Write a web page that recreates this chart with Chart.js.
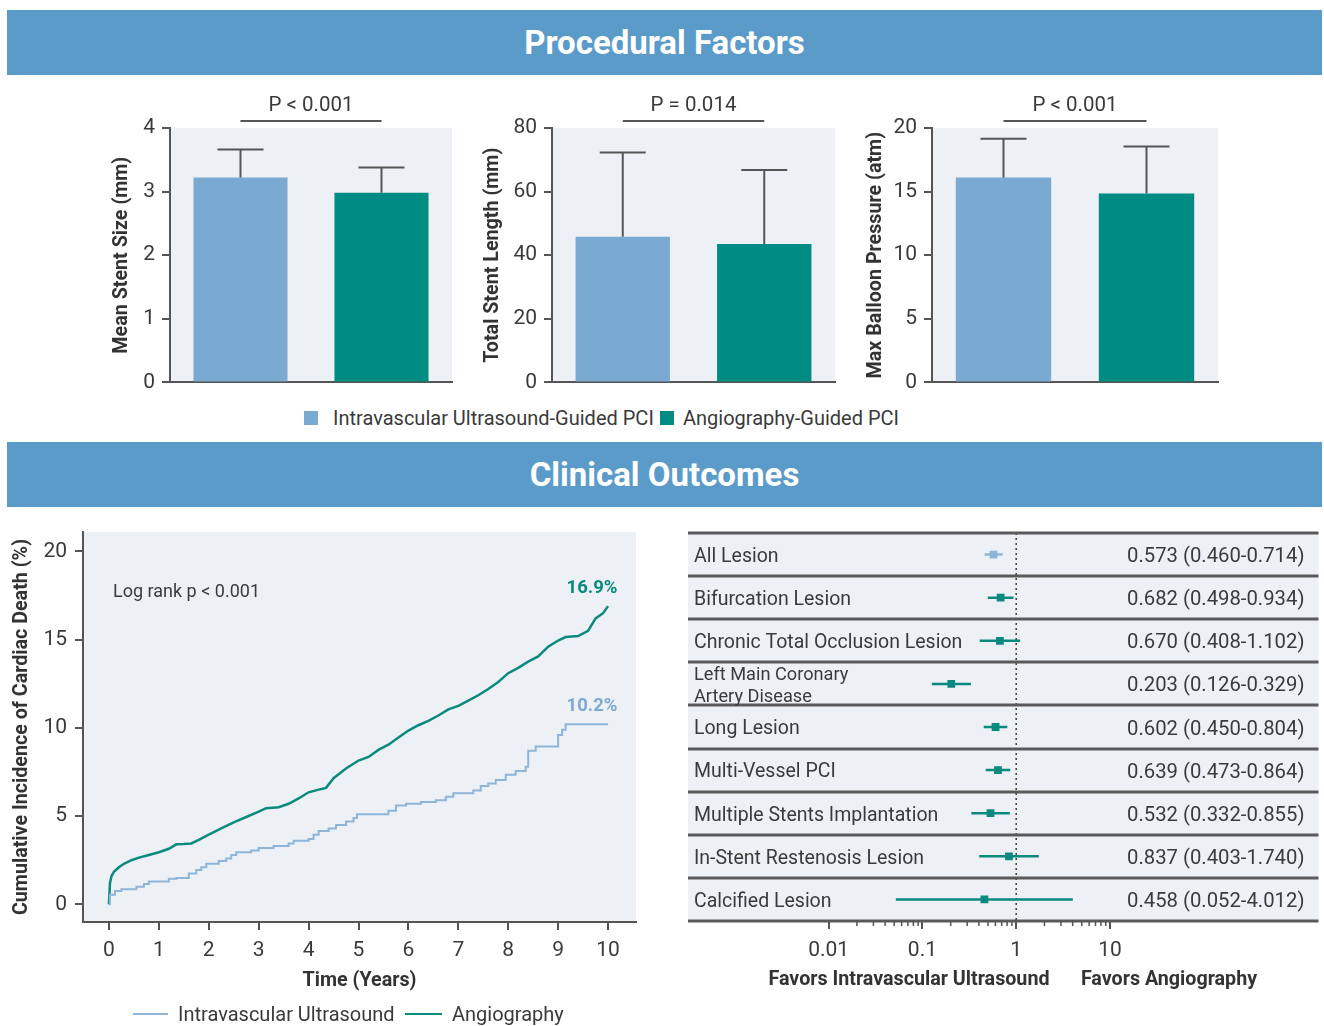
<!DOCTYPE html>
<html>
<head>
<meta charset="utf-8">
<title>IVUS-Guided vs Angiography-Guided PCI</title>
<script src="https://cdn.jsdelivr.net/npm/chart.js@4.4.1/dist/chart.umd.min.js"></script>
<style>
  html, body { margin: 0; padding: 0; }
  body { width: 1324px; height: 1026px; position: relative; overflow: hidden; background: #ffffff;
         font-family: Roboto, "Noto Sans", sans-serif; color: #3a3a3a; }
  .band { position: absolute; left: 7px; width: 1315px; height: 65px; background: #5b9bca; color: #ffffff;
          font-weight: 700; font-size: 33px; display: flex; align-items: center; justify-content: center; }
  .cv { position: absolute; }
  .lg { position: absolute; font-size: 20px; line-height: 22px; height: 22px; white-space: nowrap; color: #3a3a3a; }
  .sw { position: absolute; width: 14px; height: 14px; }
  .ln { position: absolute; height: 0; }
</style>
</head>
<body>

<div class="band" style="top:10px">Procedural Factors</div>
<div class="band" style="top:442px">Clinical Outcomes</div>

<canvas id="barSize" class="cv"></canvas>
<canvas id="barLength" class="cv"></canvas>
<canvas id="barPressure" class="cv"></canvas>

<div id="barLegend"></div>

<canvas id="km" class="cv"></canvas>
<div id="kmLegend"></div>

<canvas id="forest" class="cv"></canvas>

<script>
// ---------- data ----------
const groups = ['Intravascular Ultrasound-Guided PCI', 'Angiography-Guided PCI'];

const stentSizeMean = [3.22, 2.98];
const stentSizeSD = [0.44, 0.40];
const stentSizeTicks = [0, 1, 2, 3, 4];

const stentLengthMean = [45.8, 43.5];
const stentLengthSD = [26.5, 23.3];
const stentLengthTicks = [0, 20, 40, 60, 80];

const balloonMean = [16.1, 14.85];
const balloonSD = [3.05, 3.7];
const balloonTicks = [0, 5, 10, 15, 20];

const barPValues = ['P < 0.001', 'P = 0.014', 'P < 0.001'];
const barTitles = ['Mean Stent Size (mm)', 'Total Stent Length (mm)', 'Max Balloon Pressure (atm)'];

// cumulative incidence of cardiac death (%) over follow-up (years)
const kmSeries = ['Intravascular Ultrasound', 'Angiography'];
const ivusTime = [0, 0.02, 0.12, 0.25, 0.55, 0.7, 0.8, 1.2, 1.35, 1.6, 1.75, 1.85, 1.95, 2.2, 2.35, 2.45, 2.55,
  2.85, 3.0, 3.3, 3.6, 3.7, 4.0, 4.1, 4.2, 4.4, 4.55, 4.75, 4.9, 4.97, 5.6, 5.75, 5.95, 6.25, 6.55, 6.75, 6.9,
  7.3, 7.45, 7.6, 7.75, 7.95, 8.15, 8.35, 8.4, 8.55, 9.0, 9.08, 9.15, 10.0];
const ivusRisk = [0, 0.55, 0.75, 0.85, 1.0, 1.15, 1.3, 1.45, 1.5, 1.75, 1.95, 2.1, 2.3, 2.45, 2.6, 2.8, 2.95,
  3.05, 3.2, 3.3, 3.45, 3.6, 3.7, 3.95, 4.15, 4.3, 4.5, 4.7, 4.9, 5.1, 5.3, 5.6, 5.7, 5.8, 5.9, 6.1, 6.3,
  6.45, 6.7, 6.85, 7.05, 7.35, 7.55, 7.8, 8.7, 8.95, 9.6, 9.9, 10.2, 10.2];
const angioTime = [0, 0.02, 0.05, 0.1, 0.2, 0.3, 0.45, 0.6, 0.8, 1.0, 1.2, 1.35, 1.5, 1.65, 1.8, 2.0, 2.25,
  2.5, 2.75, 3.0, 3.15, 3.4, 3.6, 3.8, 4.0, 4.2, 4.35, 4.5, 4.75, 5.0, 5.2, 5.4, 5.6, 5.8, 6.0, 6.2, 6.4,
  6.6, 6.8, 7.0, 7.2, 7.4, 7.6, 7.8, 8.0, 8.2, 8.4, 8.6, 8.8, 9.0, 9.15, 9.4, 9.6, 9.75, 9.9, 10.0];
const angioRisk = [0, 1.2, 1.6, 1.85, 2.1, 2.3, 2.5, 2.65, 2.8, 2.95, 3.15, 3.4, 3.42, 3.45, 3.65, 3.95, 4.3,
  4.65, 4.95, 5.25, 5.45, 5.5, 5.7, 6.0, 6.35, 6.5, 6.6, 7.15, 7.7, 8.15, 8.35, 8.75, 9.05, 9.45, 9.85, 10.15, 10.4,
  10.7, 11.05, 11.25, 11.55, 11.85, 12.2, 12.6, 13.1, 13.4, 13.75, 14.05, 14.6, 14.95, 15.15, 15.2, 15.5, 16.2, 16.5, 16.9];
const kmXTicks = [0, 1, 2, 3, 4, 5, 6, 7, 8, 9, 10];
const kmYTicks = [0, 5, 10, 15, 20];
const logRankText = 'Log rank p < 0.001';

// hazard ratios (95% CI), IVUS vs angiography, by lesion subgroup
const subgroups = ['All Lesion', 'Bifurcation Lesion', 'Chronic Total Occlusion Lesion',
  ['Left Main Coronary', 'Artery Disease'], 'Long Lesion', 'Multi-Vessel PCI',
  'Multiple Stents Implantation', 'In-Stent Restenosis Lesion', 'Calcified Lesion'];
const hazardRatio = [0.573, 0.682, 0.670, 0.203, 0.602, 0.639, 0.532, 0.837, 0.458];
const ciLower = [0.460, 0.498, 0.408, 0.126, 0.450, 0.473, 0.332, 0.403, 0.052];
const ciUpper = [0.714, 0.934, 1.102, 0.329, 0.804, 0.864, 0.855, 1.740, 4.012];
const forestTicks = [0.01, 0.1, 1, 10];
const forestTickLabels = ['0.01', '0.1', '1', '10'];
const favorLabels = ['Favors Intravascular Ultrasound', 'Favors Angiography'];

// ---------- styles ----------
const IVUS_BAR = '#7aa9d1';
const ANGIO_BAR = '#008c82';
const IVUS_LINE = '#8db5da';
const ANGIO_LINE = '#0a8a7f';
const PLOT_BG = '#edf1f6';
const AXIS = '#555555';
const TEXT = '#3a3a3a';
const FONT = 'Roboto, "Noto Sans", sans-serif';

Chart.defaults.font.family = FONT;
Chart.defaults.color = TEXT;
Chart.defaults.animation = false;

function place(id, left, top, width, height) {
  const c = document.getElementById(id);
  c.width = width; c.height = height;
  c.style.left = left + 'px'; c.style.top = top + 'px';
  c.style.width = width + 'px'; c.style.height = height + 'px';
  return c;
}

// ---------- procedural factor bar charts ----------
const barExtras = {
  id: 'barExtras',
  beforeDraw(chart) {
    const { ctx, chartArea: a } = chart;
    ctx.save();
    ctx.fillStyle = PLOT_BG;
    ctx.fillRect(a.left, a.top, a.right - a.left, a.bottom - a.top);
    ctx.restore();
  },
  afterDatasetsDraw(chart, args, opts) {
    const { ctx, chartArea: a } = chart;
    const y = chart.scales.y;
    const bars = chart.getDatasetMeta(0).data;
    ctx.save();
    ctx.strokeStyle = AXIS;
    ctx.lineWidth = 2;
    bars.forEach((bar, i) => {
      const top = y.getPixelForValue(opts.mean[i] + opts.sd[i]);
      ctx.beginPath();
      ctx.moveTo(bar.x, bar.y);
      ctx.lineTo(bar.x, top);
      ctx.moveTo(bar.x - 23, top);
      ctx.lineTo(bar.x + 23, top);
      ctx.stroke();
    });
    // significance bracket
    const ly = a.top - 7;
    ctx.beginPath();
    ctx.moveTo(bars[0].x, ly);
    ctx.lineTo(bars[1].x, ly);
    ctx.stroke();
    ctx.fillStyle = TEXT;
    ctx.font = '20.5px ' + FONT;
    ctx.textAlign = 'center';
    ctx.textBaseline = 'middle';
    ctx.fillText(opts.p, (bars[0].x + bars[1].x) / 2, a.top - 22);
    ctx.restore();
  }
};

function barChart(id, plotLeft, plotRight, mean, sd, ticks, title, p, titlePad) {
  const width = plotRight - plotLeft + 88;
  const canvas = place(id, plotLeft - 80, 87, width, 315);
  return new Chart(canvas, {
    type: 'bar',
    data: {
      labels: groups,
      datasets: [{
        data: mean,
        backgroundColor: [IVUS_BAR, ANGIO_BAR],
        borderWidth: 0,
        barPercentage: 0.667,
        categoryPercentage: 1
      }]
    },
    options: {
      responsive: false,
      devicePixelRatio: 1,
      layout: { padding: { top: 41, right: 8, bottom: 18, left: 0 } },
      plugins: {
        legend: { display: false },
        tooltip: { enabled: false },
        barExtras: { mean: mean, sd: sd, p: p }
      },
      scales: {
        x: {
          grid: { display: false },
          ticks: { display: false },
          border: { color: AXIS, width: 2 },
          afterFit(s) { s.height = 0; }
        },
        y: {
          min: ticks[0],
          max: ticks[ticks.length - 1],
          afterBuildTicks(s) { s.ticks = ticks.map(v => ({ value: v })); },
          ticks: { padding: 7, color: TEXT, font: { size: 21 } },
          grid: { drawOnChartArea: false, tickLength: 8, color: AXIS, lineWidth: 2 },
          border: { color: AXIS, width: 2 },
          title: { display: true, text: title, color: '#333', font: { size: 19.7, weight: 'bold' },
                   padding: { top: titlePad, bottom: 0 } },
          afterFit(s) { s.width = 80; }
        }
      }
    },
    plugins: [barExtras]
  });
}

barChart('barSize', 170, 452, stentSizeMean, stentSizeSD, stentSizeTicks, barTitles[0], barPValues[0], 20);
barChart('barLength', 552, 835, stentLengthMean, stentLengthSD, stentLengthTicks, barTitles[1], barPValues[1], 9);
barChart('barPressure', 932, 1218, balloonMean, balloonSD, balloonTicks, barTitles[2], barPValues[2], 12);

// legend for the bar charts
(function () {
  const host = document.getElementById('barLegend');
  const items = [[304, 333, IVUS_BAR], [660, 683, ANGIO_BAR]];
  items.forEach(([sx, tx, col], i) => {
    const sw = document.createElement('div');
    sw.className = 'sw';
    sw.style.left = sx + 'px'; sw.style.top = '411px'; sw.style.background = col;
    host.appendChild(sw);
    const t = document.createElement('div');
    t.className = 'lg';
    t.style.left = tx + 'px'; t.style.top = '407px';
    t.textContent = groups[i];
    host.appendChild(t);
  });
})();

// ---------- cumulative incidence curves ----------
const kmExtras = {
  id: 'kmExtras',
  beforeDraw(chart) {
    const { ctx, chartArea: a } = chart;
    ctx.save();
    ctx.fillStyle = PLOT_BG;
    ctx.fillRect(a.left, a.top, a.right - a.left, a.bottom - a.top);
    ctx.restore();
  },
  afterDatasetsDraw(chart) {
    const { ctx, chartArea: a } = chart;
    ctx.save();
    ctx.fillStyle = TEXT;
    ctx.font = '18px ' + FONT;
    ctx.textAlign = 'left';
    ctx.textBaseline = 'middle';
    ctx.fillText(logRankText, a.left + 30, a.top + 60);
    // final cumulative incidence beside each curve end
    ctx.font = 'bold 18.5px ' + FONT;
    ctx.textAlign = 'center';
    chart.data.datasets.forEach((ds, i) => {
      const pts = chart.getDatasetMeta(i).data;
      const last = pts[pts.length - 1];
      const v = ds.data[ds.data.length - 1].y;
      ctx.fillStyle = ds.labelColor;
      ctx.fillText(v.toFixed(1) + '%', last.x - 16, last.y - 18);
    });
    ctx.restore();
  }
};

const kmCanvas = place('km', 0, 500, 650, 526);
new Chart(kmCanvas, {
  type: 'line',
  data: {
    datasets: [
      {
        label: kmSeries[0],
        data: ivusTime.map((t, i) => ({ x: t, y: ivusRisk[i] })),
        borderColor: IVUS_LINE,
        labelColor: '#7ea9d3',
        borderWidth: 2,
        pointRadius: 0,
        stepped: 'before',
        fill: false
      },
      {
        label: kmSeries[1],
        data: angioTime.map((t, i) => ({ x: t, y: angioRisk[i] })),
        borderColor: ANGIO_LINE,
        labelColor: '#0a8a7f',
        borderWidth: 2.5,
        pointRadius: 0,
        tension: 0,
        fill: false
      }
    ]
  },
  options: {
    responsive: false,
    devicePixelRatio: 1,
    layout: { padding: { top: 32, right: 14, bottom: 31, left: 0 } },
    plugins: { legend: { display: false }, tooltip: { enabled: false } },
    scales: {
      x: {
        type: 'linear',
        min: -0.52,
        max: 10.56,
        bounds: 'data',
        afterBuildTicks(s) { s.ticks = kmXTicks.map(v => ({ value: v })); },
        ticks: { padding: 8, color: TEXT, font: { size: 21 }, maxRotation: 0, autoSkip: false,
                 callback: (v, i) => String(kmXTicks[i]) },
        grid: { drawOnChartArea: false, tickLength: 8, color: AXIS, lineWidth: 2 },
        border: { color: AXIS, width: 2 },
        title: { display: true, text: 'Time (Years)', color: '#333', font: { size: 19.7, weight: 'bold' },
                 padding: { top: 0, bottom: 2 } },
        afterFit(s) { s.height = 73; }
      },
      y: {
        type: 'linear',
        min: -1.0,
        max: 21.1,
        bounds: 'data',
        afterBuildTicks(s) { s.ticks = kmYTicks.map(v => ({ value: v })); },
        ticks: { padding: 8, color: TEXT, font: { size: 21 }, callback: (v, i) => String(kmYTicks[i]) },
        grid: { drawOnChartArea: false, tickLength: 8, color: AXIS, lineWidth: 2 },
        border: { color: AXIS, width: 2 },
        title: { display: true, text: 'Cumulative Incidence of Cardiac Death (%)', color: '#333',
                 font: { size: 19.7, weight: 'bold' }, padding: { top: 10, bottom: 0 } },
        afterFit(s) { s.width = 83; }
      }
    }
  },
  plugins: [kmExtras]
});

// legend for the curves
(function () {
  const host = document.getElementById('kmLegend');
  const items = [[133, 35, 178, IVUS_LINE, 2], [405, 37, 452, ANGIO_LINE, 2.5]];
  items.forEach(([lx, lw, tx, col, bw], i) => {
    const ln = document.createElement('div');
    ln.className = 'ln';
    ln.style.left = lx + 'px'; ln.style.top = (1014 - bw / 2) + 'px'; ln.style.width = lw + 'px';
    ln.style.borderTop = bw + 'px solid ' + col;
    host.appendChild(ln);
    const t = document.createElement('div');
    t.className = 'lg';
    t.style.left = tx + 'px'; t.style.top = '1003px';
    t.textContent = kmSeries[i];
    host.appendChild(t);
  });
})();

// ---------- subgroup hazard ratios ----------
const rowColors = hazardRatio.map((v, i) => (i === 0 ? '#8db5da' : ANGIO_LINE));

const forestExtras = {
  id: 'forestExtras',
  beforeDatasetsDraw(chart) {
    const { ctx, chartArea: a } = chart;
    const x = chart.scales.x, y = chart.scales.y;
    ctx.save();
    ctx.fillStyle = PLOT_BG;
    ctx.fillRect(a.left, a.top, a.right - a.left, a.bottom - a.top);

    // line of no effect
    const x1 = x.getPixelForValue(1);
    ctx.strokeStyle = '#444';
    ctx.lineWidth = 1.6;
    ctx.setLineDash([2, 3]);
    ctx.beginPath();
    ctx.moveTo(x1, a.top);
    ctx.lineTo(x1, a.bottom);
    ctx.stroke();
    ctx.setLineDash([]);

    // row separators
    ctx.strokeStyle = '#5a5a5a';
    ctx.lineWidth = 3;
    for (let r = 0; r <= subgroups.length; r++) {
      const py = Math.round(y.getPixelForValue(r));
      ctx.beginPath();
      ctx.moveTo(a.left, py);
      ctx.lineTo(a.right, py);
      ctx.stroke();
    }

    // row labels and estimates
    ctx.fillStyle = TEXT;
    ctx.textBaseline = 'middle';
    ctx.textAlign = 'left';
    subgroups.forEach((lab, r) => {
      const cy = y.getPixelForValue(r + 0.5) + 2.5;
      if (Array.isArray(lab)) {
        ctx.font = '18.2px ' + FONT;
        ctx.fillText(lab[0], a.left + 6, cy - 11);
        ctx.fillText(lab[1], a.left + 6, cy + 11);
      } else {
        ctx.font = '19.5px ' + FONT;
        ctx.fillText(lab, a.left + 6, cy);
      }
      ctx.font = '20.3px ' + FONT;
      const txt = hazardRatio[r].toFixed(3) + ' (' + ciLower[r].toFixed(3) + '-' + ciUpper[r].toFixed(3) + ')';
      ctx.fillText(txt, a.left + 439, cy);
    });
    ctx.restore();
  },
  afterDraw(chart) {
    const { ctx, chartArea: a } = chart;
    const x = chart.scales.x;
    ctx.save();
    // minor ticks between decades
    ctx.strokeStyle = AXIS;
    ctx.lineWidth = 1.5;
    for (let e = -2; e <= 0; e++) {
      for (let k = 2; k <= 9; k++) {
        const px = x.getPixelForValue(k * Math.pow(10, e));
        ctx.beginPath();
        ctx.moveTo(px, a.bottom);
        ctx.lineTo(px, a.bottom + 5);
        ctx.stroke();
      }
    }
    // direction captions
    ctx.fillStyle = '#333';
    ctx.font = 'bold 19.7px ' + FONT;
    ctx.textAlign = 'center';
    ctx.textBaseline = 'middle';
    ctx.fillText(favorLabels[0], a.left + 221, a.bottom + 59);
    ctx.fillText(favorLabels[1], a.left + 481, a.bottom + 59);
    ctx.restore();
  }
};

const ciDatasets = hazardRatio.map((v, r) => ({
  type: 'line',
  data: [{ x: ciLower[r], y: r + 0.5 }, { x: ciUpper[r], y: r + 0.5 }],
  borderColor: rowColors[r],
  borderWidth: 2.5,
  pointRadius: 0,
  showLine: true,
  fill: false
}));

const forestCanvas = place('forest', 660, 520, 664, 506);
new Chart(forestCanvas, {
  type: 'scatter',
  data: {
    datasets: ciDatasets.concat([{
      type: 'scatter',
      data: hazardRatio.map((v, r) => ({ x: v, y: r + 0.5 })),
      pointStyle: 'rect',
      pointRadius: 5.5,
      backgroundColor: rowColors,
      borderWidth: 0
    }])
  },
  options: {
    responsive: false,
    devicePixelRatio: 1,
    layout: { padding: { top: 13, right: 4, bottom: 0, left: 28 } },
    plugins: { legend: { display: false }, tooltip: { enabled: false } },
    scales: {
      x: {
        type: 'logarithmic',
        min: Math.pow(10, -3.5),
        max: Math.pow(10, 3.2234),
        bounds: 'data',
        afterBuildTicks(s) { s.ticks = forestTicks.map(v => ({ value: v })); },
        ticks: { padding: 9, color: TEXT, font: { size: 21 }, maxRotation: 0, autoSkip: false,
                 callback: (v, i) => forestTickLabels[i] },
        grid: { drawOnChartArea: false, tickLength: 8, color: AXIS, lineWidth: 2 },
        border: { display: false },
        afterFit(s) { s.height = 105; }
      },
      y: { type: 'linear', min: 0, max: subgroups.length, reverse: true, display: false }
    }
  },
  plugins: [forestExtras]
});
</script>
</body>
</html>
